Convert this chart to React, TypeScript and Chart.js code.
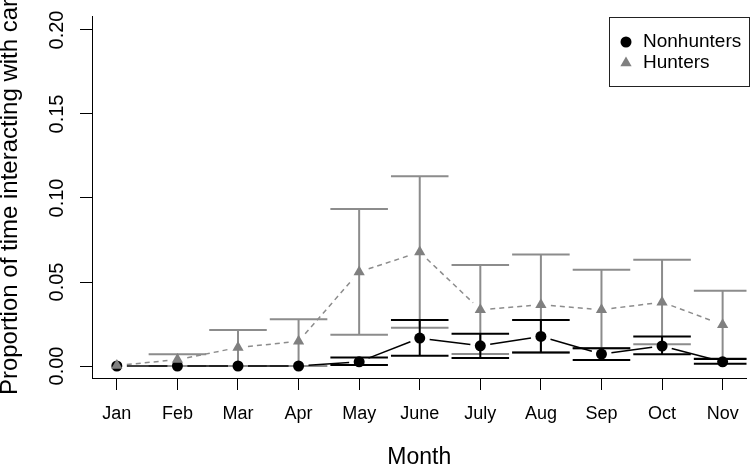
import React, { useEffect, useRef } from "react";
import { Chart, registerables } from "chart.js";

Chart.register(...registerables);

const months = ["Jan", "Feb", "Mar", "Apr", "May", "June", "July", "Aug", "Sep", "Oct", "Nov"];
const yTicks = [0, 0.05, 0.1, 0.15, 0.2];

const nonhunters = [0, 0, 0, 0, 0.0025, 0.0166, 0.012, 0.0176, 0.0071, 0.0119, 0.0025];
const nonLower = [null, null, null, null, 0.0006, 0.0061, 0.0048, 0.0081, 0.0036, 0.007, 0.0014];
const nonUpper = [null, null, null, null, 0.005, 0.0274, 0.0192, 0.0274, 0.0105, 0.0175, 0.0042];

const hunters = [0.0003, 0.0038, 0.011, 0.0147, 0.056, 0.0678, 0.0335, 0.0365, 0.0335, 0.038, 0.0246];
const huntLower = [null, 0, 0, 0, 0.0186, 0.0228, 0.0071, 0.0081, 0.0105, 0.0129, 0.0044];
const huntUpper = [null, 0.007, 0.0214, 0.0278, 0.0935, 0.1129, 0.0601, 0.0663, 0.0573, 0.0633, 0.0448];

const FONT = "'Liberation Sans', Arial, Helvetica, sans-serif";
const GRAY = "#808080";
const BAR_GRAY = "#8c8c8c";

function drawBars(ctx: any, xs: any, ys: any, lo: any[], hi: any[], color: string) {
  ctx.save();
  ctx.strokeStyle = color;
  ctx.lineWidth = 2;
  for (let i = 0; i < lo.length; i++) {
    if (lo[i] == null || hi[i] == null) continue;
    const px = xs.getPixelForValue(i);
    const x0 = xs.getPixelForValue(i - 0.475);
    const x1 = xs.getPixelForValue(i + 0.475);
    const yl = ys.getPixelForValue(lo[i]);
    const yh = ys.getPixelForValue(hi[i]);
    ctx.beginPath();
    ctx.moveTo(px, yl);
    ctx.lineTo(px, yh);
    ctx.moveTo(x0, yh);
    ctx.lineTo(x1, yh);
    ctx.moveTo(x0, yl);
    ctx.lineTo(x1, yl);
    ctx.stroke();
  }
  ctx.restore();
}

function drawGapLine(ctx: any, xs: any, ys: any, vals: number[], color: string, dash: number[], width: number) {
  const gap = 10;
  ctx.save();
  ctx.strokeStyle = color;
  ctx.lineWidth = width;
  ctx.setLineDash(dash);
  for (let i = 0; i < vals.length - 1; i++) {
    const ax = xs.getPixelForValue(i);
    const ay = ys.getPixelForValue(vals[i]);
    const bx = xs.getPixelForValue(i + 1);
    const by = ys.getPixelForValue(vals[i + 1]);
    const dx = bx - ax;
    const dy = by - ay;
    const d = Math.sqrt(dx * dx + dy * dy);
    if (d <= 2 * gap) continue;
    const ux = dx / d;
    const uy = dy / d;
    ctx.beginPath();
    ctx.moveTo(ax + ux * gap, ay + uy * gap);
    ctx.lineTo(bx - ux * gap, by - uy * gap);
    ctx.stroke();
  }
  ctx.restore();
}

const barsPlugin = {
  id: "barsPlugin",
  beforeDatasetsDraw(chart: any) {
    const { ctx, chartArea, scales } = chart;
    ctx.save();
    ctx.beginPath();
    ctx.rect(chartArea.left, chartArea.top, chartArea.right - chartArea.left, chartArea.bottom - chartArea.top);
    ctx.clip();
    drawBars(ctx, scales.x, scales.y, huntLower, huntUpper, BAR_GRAY);
    drawGapLine(ctx, scales.x, scales.y, hunters, BAR_GRAY, [5, 4], 1.5);
    drawBars(ctx, scales.x, scales.y, nonLower, nonUpper, "#000");
    drawGapLine(ctx, scales.x, scales.y, nonhunters, "#000", [], 1.5);
    ctx.restore();
  },
};

const legendPlugin = {
  id: "boxLegend",
  afterDraw(chart: any) {
    const { ctx } = chart;
    const left = 609.5, top = 17.5, w = 140, h = 69;
    ctx.save();
    ctx.strokeStyle = "#222";
    ctx.lineWidth = 1;
    ctx.strokeRect(left, top, w, h);
    const items = [chart.data.datasets[1], chart.data.datasets[0]];
    const ys = [42, 63];
    items.forEach((ds: any, k: number) => {
      const cx = 626;
      const cy = ys[k];
      ctx.fillStyle = ds.backgroundColor;
      ctx.beginPath();
      if (ds.pointStyle === "triangle") {
        const r = 6.5;
        let rad = 0;
        ctx.moveTo(cx + Math.sin(rad) * r, cy - Math.cos(rad) * r);
        rad += (2 * Math.PI) / 3;
        ctx.lineTo(cx + Math.sin(rad) * r, cy - Math.cos(rad) * r);
        rad += (2 * Math.PI) / 3;
        ctx.lineTo(cx + Math.sin(rad) * r, cy - Math.cos(rad) * r);
        ctx.closePath();
      } else {
        ctx.arc(cx, cy, 5.5, 0, Math.PI * 2);
      }
      ctx.fill();
      ctx.fillStyle = "#000";
      ctx.font = `19px ${FONT}`;
      ctx.textAlign = "left";
      ctx.textBaseline = "middle";
      ctx.fillText(ds.label, 643, cy);
    });
    ctx.restore();
  },
};

export default function App() {
  const ref = useRef<HTMLCanvasElement>(null);

  useEffect(() => {
    if (!ref.current) return;
    const chart = new Chart(ref.current, {
      type: "scatter",
      data: {
        datasets: [
          {
            label: "Hunters",
            data: hunters.map((v, i) => ({ x: i, y: v })),
            pointStyle: "triangle",
            pointRadius: 6.5,
            pointBorderWidth: 0,
            backgroundColor: GRAY,
            borderColor: GRAY,
            showLine: false,
          },
          {
            label: "Nonhunters",
            data: nonhunters.map((v, i) => ({ x: i, y: v })),
            pointStyle: "circle",
            pointRadius: 5.5,
            pointBorderWidth: 0,
            backgroundColor: "#000",
            borderColor: "#000",
            showLine: false,
          },
        ],
      },
      options: {
        animation: false,
        responsive: false,
        layout: { padding: { top: 16, right: 3, left: 0, bottom: 0 } },
        plugins: {
          legend: { display: false },
          tooltip: { enabled: false },
        },
        scales: {
          x: {
            type: "linear",
            min: -0.41,
            max: 10.394,
            afterBuildTicks: (scale: any) => {
              scale.ticks = months.map((_, i) => ({ value: i }));
            },
            afterFit: (scale: any) => {
              scale.height = 89;
            },
            ticks: {
              callback: (v: any) => months[v],
              font: { family: FONT, size: 18 },
              color: "#000",
              padding: 13,
              maxRotation: 0,
              minRotation: 0,
              autoSkip: false,
            },
            grid: {
              drawOnChartArea: false,
              drawTicks: true,
              tickLength: 12,
              tickColor: "#000",
              tickWidth: 1,
            },
            border: { display: true, color: "#000", width: 1 },
            title: {
              display: true,
              text: "Month",
              font: { family: FONT, size: 23 },
              color: "#000",
              padding: { top: 0, bottom: -4 },
            },
          },
          y: {
            type: "linear",
            min: -0.00714,
            max: 0.20833,
            afterBuildTicks: (scale: any) => {
              scale.ticks = yTicks.map((v) => ({ value: v }));
            },
            afterFit: (scale: any) => {
              scale.width = 92;
            },
            ticks: {
              callback: (v: any) => Number(v).toFixed(2),
              font: { family: FONT, size: 20 },
              color: "#000",
              padding: 3.5,
              minRotation: 90,
              maxRotation: 90,
              crossAlign: "center",
              autoSkip: false,
            },
            grid: {
              drawOnChartArea: false,
              drawTicks: true,
              tickLength: 12,
              tickColor: "#000",
              tickWidth: 1,
            },
            border: { display: true, color: "#000", width: 1 },
            title: {
              display: true,
              text: "Proportion of time interacting with car",
              font: { family: FONT, size: 24 },
              color: "#000",
              padding: { top: -3.6, bottom: 0 },
            },
          },
        },
      },
      plugins: [barsPlugin, legendPlugin],
    } as any);
    return () => chart.destroy();
  }, []);

  return (
    <div style={{ position: "fixed", left: 0, top: 0, width: 753, height: 467, background: "#fff" }}>
      <canvas ref={ref} width={753} height={467} style={{ width: 753, height: 467, display: "block" }} />
    </div>
  );
}
